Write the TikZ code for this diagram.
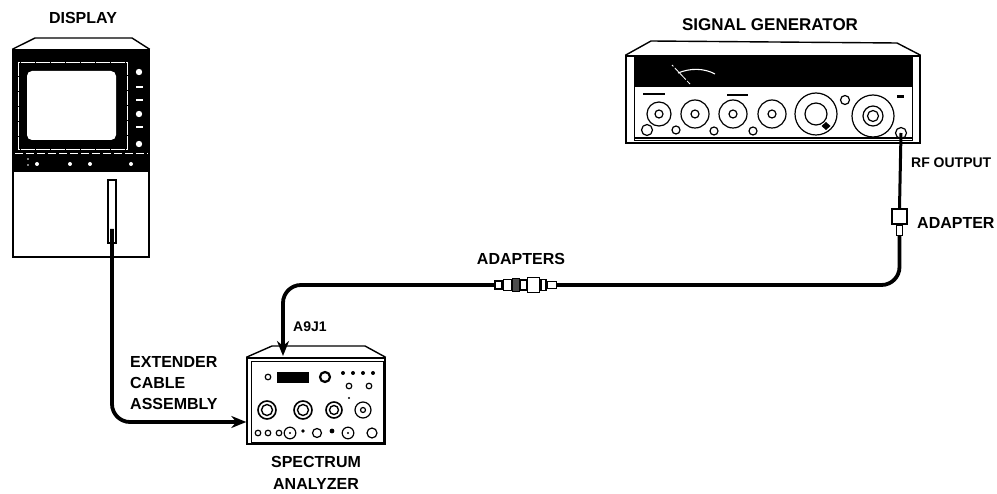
\documentclass[tikz,border=0pt]{standalone}
\usepackage{fontspec}
\setmainfont{Liberation Sans}
\usetikzlibrary{arrows.meta,positioning,calc}
\begin{document}
\begin{tikzpicture}[
    x=1pt, y=-1pt,
    body/.style={draw, line width=1.4pt, fill=white, inner sep=0pt, minimum width=#1},
    panel/.style={fill=black, draw=black},
    part/.style={draw, line width=1.2pt, fill=white, inner sep=0pt},
    knob/.style={draw, line width=1.2pt, fill=white},
    cable/.style={line width=3.8pt, rounded corners=18pt},
    arrow/.style={-{Stealth[length=15pt,width=12pt]}},
    label/.style={font=\fontsize{16}{19}\selectfont\bfseries, align=center, inner sep=0pt},
    smalllabel/.style={font=\fontsize{14}{16}\selectfont\bfseries, inner sep=0pt}
  ]
    \useasboundingbox (0,0) rectangle (997,494);
    \fill[white] (0,0) rectangle (997,494);

    % Display
    \node[body=136pt, minimum height=207pt] (display) at (81,153.5) {};
    \draw[line width=1.4pt] (display.north west) -- (35,38) -- (132,38) -- (display.north east);
    \fill[panel] (display.north west) rectangle (149,171);
    \draw[white, line width=0.7pt, dash pattern=on 14pt off 1pt] (18,62) rectangle (127,149);
    \fill[white, rounded corners=5pt] (27,71) rectangle (116,140);
    \draw[white, line width=0.6pt, dash pattern=on 8pt off 3pt] (15,153) -- (148,153);
    \foreach \ky in {72,114,144} \fill[white] (139,\ky) circle (3.2);
    \foreach \ky in {87,100,127} \fill[white] (135.5,\ky-1) rectangle (142.5,\ky+1);
    \foreach \kx in {37,70,90,131} \fill[white] (\kx,164) circle (2);
    \foreach \ky in {159,165} \fill[white] (28,\ky) circle (0.8);
    \node[part, minimum width=8pt, minimum height=63pt] (slot) at (112,211.5) {};
    \coordinate (displayjack) at (112,229);

    % Signal generator
    \node[body=294pt, minimum height=87pt] (generator) at (773,99.5) {};
    \draw[line width=1.4pt] (generator.north west) -- (651,41) -- (897,43) -- (generator.north east);
    \fill[panel] (634,57) rectangle (912,86);
    \draw[line width=1pt] (634,86) rectangle (912,141);
    \draw[line width=1.6pt] (634,138) -- (912,138);
    \draw[white, line width=1.1pt] (678,73) .. controls (690,68) and (704,68) .. (715,74);
    \draw[white, line width=0.8pt, dash pattern=on 2pt off 2pt on 14pt off 0pt] (672,65) -- (690,84);
    \fill[black] (643,93) rectangle (665,95.5);
    \fill[black] (727,94) rectangle (748,96.5);
    \fill[black] (897,95) rectangle (904,98);
    \node[knob, circle, minimum size=24pt] (dialA) at (659,114) {};
    \node[knob, circle, minimum size=28pt] (dialB) at (695,114) {};
    \node[knob, circle, minimum size=28pt] (dialC) at (733,114) {};
    \node[knob, circle, minimum size=28pt] (dialD) at (772,114) {};
    \node[knob, circle, minimum size=42pt] (dialE) at (816,114) {};
    \node[knob, circle, minimum size=42pt] (dialF) at (873,116) {};
    \foreach \kx/\ky in {659/114,695/114,733/114,772/114} \draw[knob] (\kx,\ky) circle (4);
    \draw[knob] (816,114) circle (11);
    \draw[knob] (873,116) circle (10);
    \draw[knob] (873,116) circle (5.5);
    \fill[black] (826,122) -- (830.5,126) -- (826,130) -- (821.5,126) -- cycle;
    \foreach \kx/\ky/\kr in {647/130/5.5,676/130/4,714/131/4,753/131/4,845/100/4.5}
      \draw[knob] (\kx,\ky) circle (\kr);
    \node[knob, circle, minimum size=11pt, inner sep=0pt] (rfout) at (901,133) {};

    % Spectrum analyzer
    \node[body=138pt, minimum height=86pt] (analyzer) at (316,401) {};
    \draw[line width=1.4pt] (analyzer.north west) -- (272,346) -- (365,346) -- (analyzer.north east);
    \draw[line width=0.8pt] (251,361) rectangle (383,442);
    \fill[black] (277,372) rectangle (309,383);
    \draw[knob] (268,377) circle (2.8);
    \draw[knob, line width=2.2pt] (325,377) circle (5);
    \foreach \kx in {343,353,363,373} \fill[black] (\kx,373) circle (2);
    \fill[black] (349,398) circle (1.2);
    \foreach \kx in {349,369} \draw[knob] (\kx,386) circle (2.8);
    \foreach \kx/\kr in {267/9,303/9,334/8} {
      \draw[knob, line width=1.6pt] (\kx,410) circle (\kr);
      \draw[knob, line width=1.4pt] (\kx,410) circle (\kr-3.5);
    }
    \draw[knob] (363,410) circle (8);
    \draw[knob] (363,410) circle (2.5);
    \foreach \kx in {258,268,279} \draw[knob] (\kx,433) circle (2.8);
    \foreach \kx in {290,348} {
      \draw[knob] (\kx,433) circle (5.8);
      \fill[black] (\kx,433) circle (1.2);
    }
    \foreach \kx/\kr in {317/4.5,372/5} \draw[knob] (\kx,433) circle (\kr);
    \foreach \kx/\kr in {303/1.8,332/2.4} \fill[black] (\kx,431) circle (\kr);
    \coordinate (analyzertop) at (283,356);
    \coordinate (analyzerside) at (analyzer.west |- 0,422);

    % Adapter on the generator output
    \node[part, minimum width=15pt, minimum height=15pt] (adapterbody) at (899.5,216.5) {};
    \node[part, minimum width=6pt, minimum height=10pt, below=0pt of adapterbody] (adaptertail) {};

    % Adapters in the long run
    \node[part, minimum width=7pt, minimum height=8pt] (adapterA) at (498.5,285) {};
    \node[part, minimum width=8pt, minimum height=11pt, right=0pt of adapterA] (adapterB) {};
    \node[part, fill=black!70, minimum width=7pt, minimum height=13pt, right=0pt of adapterB] (adapterC) {};
    \node[part, minimum width=6pt, minimum height=10pt, right=0pt of adapterC] (adapterD) {};
    \node[part, minimum width=12pt, minimum height=15pt, right=0pt of adapterD] (adapterE) {};
    \node[part, minimum width=5pt, minimum height=11pt, right=0pt of adapterE] (adapterF) {};
    \node[part, minimum width=9pt, minimum height=7pt, right=0pt of adapterF] (adapterG) {};

    % Cables
    \draw[cable, arrow] (displayjack) |- (analyzerside);
    \draw[cable, arrow] (adapterA.west) -| (analyzertop);
    \draw[cable] (adaptertail.south) |- (adapterG.east);
    \draw[line width=3pt] (rfout.center) -- (adapterbody.north);

    % Labels
    \node[label] (displaylabel) at (83,18) {DISPLAY};
    \node[label, font=\fontsize{17}{19}\selectfont\bfseries] (generatorlabel) at (770,25) {SIGNAL GENERATOR};
    \node[label, below=11pt of analyzer] (analyzerlabel) {SPECTRUM\\[3pt]ANALYZER};
    \node[label, anchor=west, align=left] (extenderlabel) at (130,383) {EXTENDER\\[2pt]CABLE\\[2pt]ASSEMBLY};
    \node[label] (adapterslabel) at (521,259) {ADAPTERS};
    \node[label, anchor=west] (adapterlabel) at (917,223) {ADAPTER};
    \node[smalllabel, anchor=west] (rflabel) at (911,163) {RF OUTPUT};
    \node[smalllabel, anchor=west] (portlabel) at (293,327) {A9J1};
\end{tikzpicture}
\end{document}
